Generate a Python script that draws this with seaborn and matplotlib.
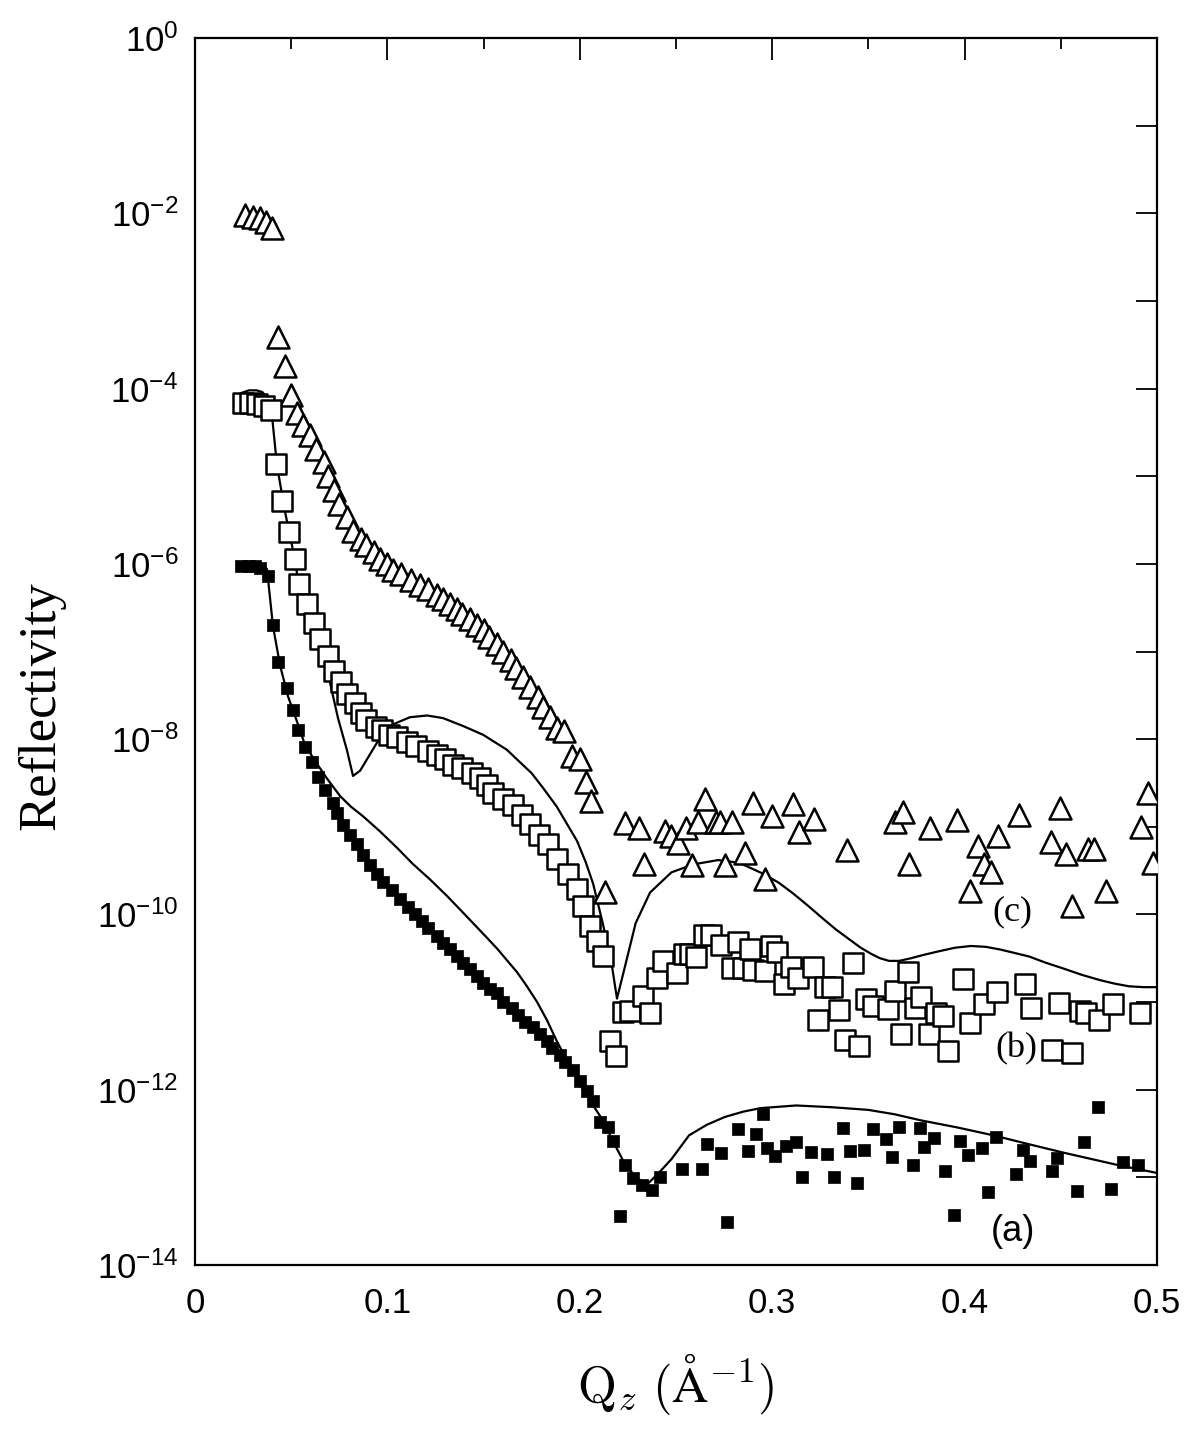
import numpy as np
import pandas as pd
import matplotlib
matplotlib.use("Agg")
import matplotlib.pyplot as plt
from matplotlib.ticker import FixedLocator, FuncFormatter
import seaborn as sns

# ---------------- data (Q in 1/Angstrom, log10 of reflectivity) ----------------
tri_q = [0.026, 0.030, 0.034, 0.037, 0.040, 0.043, 0.047, 0.050, 0.053, 0.056,
         0.060, 0.063, 0.067, 0.069, 0.072, 0.075, 0.079, 0.082, 0.086, 0.089,
         0.093, 0.096, 0.100, 0.103, 0.107, 0.112, 0.117, 0.121, 0.126, 0.129,
         0.1325, 0.136, 0.139, 0.143, 0.1466, 0.150, 0.153, 0.157, 0.160, 0.164,
         0.167, 0.1705, 0.174, 0.178, 0.181, 0.1845, 0.188, 0.192, 0.196, 0.200,
         0.203, 0.206, 0.213, 0.2235, 0.2306, 0.2336, 0.244, 0.2476, 0.251, 0.255,
         0.2583, 0.2615, 0.2653, 0.2708, 0.2727, 0.2755, 0.279, 0.2857, 0.290, 0.296,
         0.300, 0.311, 0.314, 0.3215, 0.339, 0.364, 0.368, 0.371, 0.382, 0.396,
         0.403, 0.4068, 0.410, 0.4138, 0.4175, 0.428, 0.445, 0.4496, 0.4527, 0.456,
         0.4639, 0.467, 0.4737, 0.4917, 0.4955, 0.498]
tri_log = [-2.02, -2.04, -2.05, -2.10, -2.17, -3.41, -3.74, -4.07, -4.28, -4.41,
           -4.53, -4.69, -4.84, -5.00, -5.16, -5.32, -5.47, -5.62, -5.72, -5.79,
           -5.87, -5.95, -6.00, -6.07, -6.12, -6.18, -6.24, -6.29, -6.35, -6.40,
           -6.46, -6.51, -6.57, -6.63, -6.70, -6.76, -6.84, -6.91, -7.01, -7.10,
           -7.19, -7.29, -7.40, -7.52, -7.63, -7.75, -7.87, -7.91, -8.19, -8.23,
           -8.49, -8.71, -9.74, -8.96, -9.01, -9.43, -9.05, -9.10, -9.18, -9.01,
           -9.44, -8.95, -8.68, -8.94, -8.94, -9.44, -8.94, -9.30, -8.73, -9.60,
           -8.88, -8.74, -9.06, -8.91, -9.26, -8.95, -8.83, -9.42, -9.01, -8.92,
           -9.73, -9.22, -9.43, -9.52, -9.10, -8.87, -9.17, -8.78, -9.31, -9.90,
           -9.25, -9.25, -9.73, -9.00, -8.61, -9.41]

osq_q = [0.025, 0.0286, 0.032, 0.036, 0.0395, 0.042, 0.045, 0.049, 0.052, 0.054,
         0.058, 0.062, 0.065, 0.069, 0.072, 0.076, 0.079, 0.083, 0.086, 0.089,
         0.094, 0.097, 0.101, 0.105, 0.110, 0.115, 0.121, 0.126, 0.130, 0.134,
         0.139, 0.144, 0.148, 0.152, 0.155, 0.160, 0.165, 0.170, 0.174, 0.179,
         0.1835, 0.188, 0.194, 0.1985, 0.2017, 0.2053, 0.209, 0.212, 0.2157, 0.219,
         0.2225, 0.226, 0.233, 0.2365, 0.240, 0.243, 0.2504, 0.254, 0.257, 0.2606,
         0.2643, 0.268, 0.2736, 0.279, 0.282, 0.2848, 0.2885, 0.290, 0.296, 0.2996,
         0.3024, 0.306, 0.3098, 0.3135, 0.321, 0.3237, 0.3274, 0.331, 0.3345, 0.338,
         0.342, 0.345, 0.3488, 0.3525, 0.360, 0.3636, 0.3668, 0.3705, 0.3742, 0.3775,
         0.3813, 0.385, 0.3887, 0.3915, 0.399, 0.4026, 0.410, 0.4168, 0.4314, 0.4347,
         0.4453, 0.449, 0.4558, 0.460, 0.4633, 0.470, 0.4769, 0.4912]
osq_log = [-4.16, -4.17, -4.18, -4.20, -4.24, -4.86, -5.28, -5.64, -5.94, -6.23,
           -6.46, -6.68, -6.86, -7.05, -7.22, -7.35, -7.48, -7.59, -7.70, -7.78,
           -7.86, -7.90, -7.95, -7.98, -8.03, -8.08, -8.14, -8.18, -8.23, -8.29,
           -8.33, -8.39, -8.44, -8.52, -8.61, -8.68, -8.75, -8.86, -8.97, -9.09,
           -9.20, -9.37, -9.54, -9.71, -9.90, -10.13, -10.30, -10.48, -11.44, -11.61,
           -11.11, -11.10, -10.93, -11.12, -10.72, -10.53, -10.67, -10.45, -10.45, -10.49,
           -10.24, -10.24, -10.35, -10.61, -10.31, -10.61, -10.40, -10.63, -10.65, -10.36,
           -10.43, -10.79, -10.60, -10.72, -10.60, -11.21, -10.83, -10.83, -11.09, -11.43,
           -10.55, -11.50, -10.97, -11.04, -11.08, -10.87, -11.36, -10.66, -11.07, -10.94,
           -11.36, -11.13, -11.16, -11.56, -10.74, -11.24, -11.02, -10.89, -10.79, -11.07,
           -11.55, -11.01, -11.58, -11.10, -11.12, -11.21, -11.02, -11.12]

fsq_q = [0.024, 0.028, 0.031, 0.034, 0.038, 0.0405, 0.043, 0.0478, 0.051, 0.0535,
         0.057, 0.061, 0.064, 0.0676, 0.0717, 0.0738, 0.077, 0.0806, 0.0842, 0.0873,
         0.091, 0.0946, 0.0977, 0.1024, 0.1066, 0.1107, 0.1143, 0.118, 0.1211, 0.1258,
         0.1289, 0.1325, 0.1362, 0.1393, 0.143, 0.1466, 0.1497, 0.1533, 0.157, 0.160,
         0.1648, 0.1679, 0.1715, 0.1757, 0.1793, 0.183, 0.1856, 0.1897, 0.1923, 0.1965,
         0.2001, 0.2037, 0.2069, 0.2105, 0.2147, 0.2173, 0.2209, 0.2235, 0.2277, 0.2323,
         0.2375, 0.2417, 0.253, 0.2634, 0.266, 0.2736, 0.2764, 0.282, 0.2875, 0.2913,
         0.295, 0.2973, 0.3015, 0.307, 0.3122, 0.3154, 0.320, 0.3284, 0.332, 0.3368,
         0.3404, 0.3438, 0.3479, 0.3525, 0.359, 0.3623, 0.366, 0.3734, 0.3766, 0.379,
         0.384, 0.3896, 0.3943, 0.3976, 0.4017, 0.409, 0.412, 0.4165, 0.4267, 0.4305,
         0.4342, 0.4453, 0.448, 0.4583, 0.462, 0.4694, 0.476, 0.4824, 0.4899]
fsq_log = [-6.02, -6.02, -6.03, -6.05, -6.14, -6.70, -7.12, -7.42, -7.67, -7.90,
           -8.09, -8.26, -8.43, -8.58, -8.73, -8.84, -8.98, -9.09, -9.20, -9.32,
           -9.44, -9.54, -9.63, -9.72, -9.82, -9.91, -10.00, -10.08, -10.16, -10.25,
           -10.33, -10.40, -10.48, -10.55, -10.62, -10.70, -10.78, -10.85, -10.90, -11.00,
           -11.07, -11.15, -11.23, -11.29, -11.37, -11.45, -11.52, -11.60, -11.68, -11.77,
           -11.90, -12.01, -12.13, -12.37, -12.42, -12.58, -13.44, -12.86, -13.01, -13.09,
           -13.14, -13.00, -12.91, -12.91, -12.62, -12.72, -13.51, -12.45, -12.70, -12.51,
           -12.28, -12.66, -12.76, -12.64, -12.60, -13.00, -12.71, -12.73, -13.00, -12.44,
           -12.70, -13.06, -12.69, -12.45, -12.56, -12.77, -12.43, -12.86, -12.44, -12.65,
           -12.55, -12.93, -13.43, -12.59, -12.75, -12.66, -13.17, -12.54, -12.96, -12.69,
           -12.81, -12.93, -12.78, -13.16, -12.60, -12.20, -13.13, -12.82, -12.86]

# fitted curves
fit_a_q = [0.022, 0.030, 0.035, 0.0374, 0.0405, 0.0442, 0.0483, 0.053, 0.0572, 0.0624,
           0.0686, 0.0754, 0.081, 0.0873, 0.096, 0.105, 0.113, 0.1221, 0.131, 0.1393,
           0.148, 0.157, 0.162, 0.1674, 0.1725, 0.1778, 0.183, 0.1881, 0.194, 0.200,
           0.206, 0.212, 0.217, 0.2225, 0.2290, 0.235, 0.241, 0.2477, 0.2568, 0.266,
           0.2755, 0.285, 0.294, 0.3124, 0.331, 0.3498, 0.3635, 0.3773, 0.396, 0.4148,
           0.433, 0.4517, 0.4797, 0.500]
fit_a_log = [-5.99, -5.99, -6.01, -6.06, -6.71, -7.16, -7.51, -7.80, -8.07, -8.25,
             -8.45, -8.65, -8.77, -8.88, -9.05, -9.24, -9.42, -9.60, -9.79, -9.98,
             -10.18, -10.39, -10.52, -10.66, -10.82, -11.00, -11.21, -11.45, -11.69, -11.94,
             -12.15, -12.35, -12.58, -12.81, -13.00, -13.08, -12.95, -12.79, -12.52, -12.40,
             -12.31, -12.25, -12.21, -12.18, -12.20, -12.23, -12.28, -12.35, -12.43, -12.52,
             -12.62, -12.72, -12.86, -12.95]

fit_b_q = [0.024, 0.028, 0.032, 0.035, 0.038, 0.040, 0.0426, 0.0468, 0.0504, 0.0535,
           0.0572, 0.0613, 0.066, 0.070, 0.0743, 0.079, 0.0821, 0.0858, 0.091, 0.0962,
           0.103, 0.1117, 0.1206, 0.1289, 0.1393, 0.1497, 0.162, 0.175, 0.181, 0.188,
           0.1985, 0.203, 0.2069, 0.212, 0.2167, 0.2193, 0.2235, 0.229, 0.2365, 0.2476,
           0.2588, 0.2718, 0.2827, 0.2957, 0.3035, 0.3108, 0.318, 0.3254, 0.333, 0.3404,
           0.346, 0.3514, 0.356, 0.3607, 0.366, 0.3721, 0.379, 0.3867, 0.395, 0.4033,
           0.411, 0.4184, 0.426, 0.4335, 0.442, 0.4517, 0.461, 0.4704, 0.478, 0.4854,
           0.493, 0.500]
fit_b_log = [-4.05, -4.02, -4.02, -4.04, -4.12, -4.31, -4.88, -5.41, -5.79, -6.17,
             -6.47, -6.74, -6.99, -7.34, -7.76, -8.13, -8.42, -8.36, -8.17, -7.98,
             -7.83, -7.75, -7.73, -7.76, -7.85, -7.95, -8.12, -8.39, -8.56, -8.77,
             -9.16, -9.40, -9.65, -10.11, -10.59, -10.96, -10.59, -10.10, -9.75, -9.52,
             -9.43, -9.38, -9.41, -9.54, -9.64, -9.76, -9.89, -10.03, -10.17, -10.29,
             -10.38, -10.45, -10.50, -10.53, -10.53, -10.50, -10.46, -10.42, -10.38, -10.36,
             -10.37, -10.40, -10.44, -10.48, -10.55, -10.62, -10.69, -10.75, -10.79, -10.82,
             -10.83, -10.83]

fit_c_q = [0.053, 0.060, 0.067, 0.075, 0.082, 0.090, 0.100, 0.110, 0.120, 0.130,
           0.140, 0.150, 0.160, 0.170, 0.180, 0.188, 0.195]
fit_c_log = [-4.22, -4.47, -4.78, -5.25, -5.56, -5.78, -5.96, -6.11, -6.24, -6.38,
             -6.55, -6.72, -6.95, -7.24, -7.56, -7.82, -8.00]

x_ticks = [0.0, 0.1, 0.2, 0.3, 0.4, 0.5]
x_ticklabels = ["0", "0.1", "0.2", "0.3", "0.4", "0.5"]
y_exponents = list(range(-14, 1))
curve_labels = ["(a)", "(b)", "(c)"]
label_q = [0.425, 0.4267, 0.4246]
label_log = [-13.62, -11.53, -9.97]

# ---------------- build tables ----------------
df_tri = pd.DataFrame({"Q": tri_q, "R": 10.0 ** np.array(tri_log)})
df_osq = pd.DataFrame({"Q": osq_q, "R": 10.0 ** np.array(osq_log)})
df_fsq = pd.DataFrame({"Q": fsq_q, "R": 10.0 ** np.array(fsq_log)})
df_fa = pd.DataFrame({"Q": fit_a_q, "R": 10.0 ** np.array(fit_a_log)})
df_fb = pd.DataFrame({"Q": fit_b_q, "R": 10.0 ** np.array(fit_b_log)})
df_fc = pd.DataFrame({"Q": fit_c_q, "R": 10.0 ** np.array(fit_c_log)})

# ---------------- style ----------------
sns.set_theme(style="white")
plt.rcParams["font.family"] = ["Liberation Sans", "DejaVu Sans"]
plt.rcParams["mathtext.fontset"] = "cm"
plt.rcParams["axes.linewidth"] = 1.6

fig = plt.figure(figsize=(12.04, 14.30), dpi=100)
ax = fig.add_axes([0.162, 0.1154, 0.799, 0.858])
ax.set_yscale("log")

for d in (df_fa, df_fb, df_fc):
    sns.lineplot(data=d, x="Q", y="R", ax=ax, color="black", linewidth=1.6,
                 sort=False, estimator=None, legend=False)

sns.scatterplot(data=df_tri, x="Q", y="R", ax=ax, marker="^", s=250,
                facecolor="white", edgecolor="black", linewidth=1.8, zorder=3)
sns.scatterplot(data=df_osq, x="Q", y="R", ax=ax, marker="s", s=190,
                facecolor="white", edgecolor="black", linewidth=1.8, zorder=3)
sns.scatterplot(data=df_fsq, x="Q", y="R", ax=ax, marker="s", s=75,
                color="black", edgecolor="black", linewidth=0.5, zorder=4)

ax.set_xlim(0, 0.5)
ax.set_ylim(1e-14, 1e0)

ax.xaxis.set_major_locator(FixedLocator(x_ticks))
ax.set_xticklabels(x_ticklabels)
ax.xaxis.set_minor_locator(FixedLocator([0.05, 0.15, 0.25, 0.35, 0.45]))
ax.yaxis.set_major_locator(FixedLocator([10.0 ** e for e in y_exponents]))
ax.yaxis.set_minor_locator(FixedLocator([]))


def ylab(v, pos):
    e = int(round(np.log10(v)))
    if e % 2 == 0:
        return r"$\mathregular{10^{%d}}$" % e
    return ""


ax.yaxis.set_major_formatter(FuncFormatter(ylab))
ax.tick_params(which="both", direction="in", top=True, right=True,
               labelsize=25, width=1.3, color="black", labelcolor="black")
ax.tick_params(axis="y", which="major", length=15, pad=12)
ax.tick_params(axis="x", which="major", length=16, pad=16)
ax.tick_params(axis="x", which="minor", length=8)

for s in ax.spines.values():
    s.set_color("black")
    s.set_linewidth(1.6)

ax.set_xlabel(r"$\mathrm{Q}_z\ (\mathrm{\AA}^{-1})$", fontsize=36, labelpad=22,
              color="black")
ax.set_ylabel("Reflectivity", fontsize=38, family=["Liberation Serif", "DejaVu Serif"],
              color="black")
ax.yaxis.set_label_coords(-0.135, 0.456)

for t, q, lg in zip(curve_labels, label_q, label_log):
    fam = ["Liberation Sans", "DejaVu Sans"] if t == "(a)" else ["Liberation Serif", "DejaVu Serif"]
    ax.text(q, 10.0 ** lg, t, fontsize=26, family=fam, ha="center", va="center",
            color="black")

fig.savefig("out.png", dpi=100, facecolor="white")
